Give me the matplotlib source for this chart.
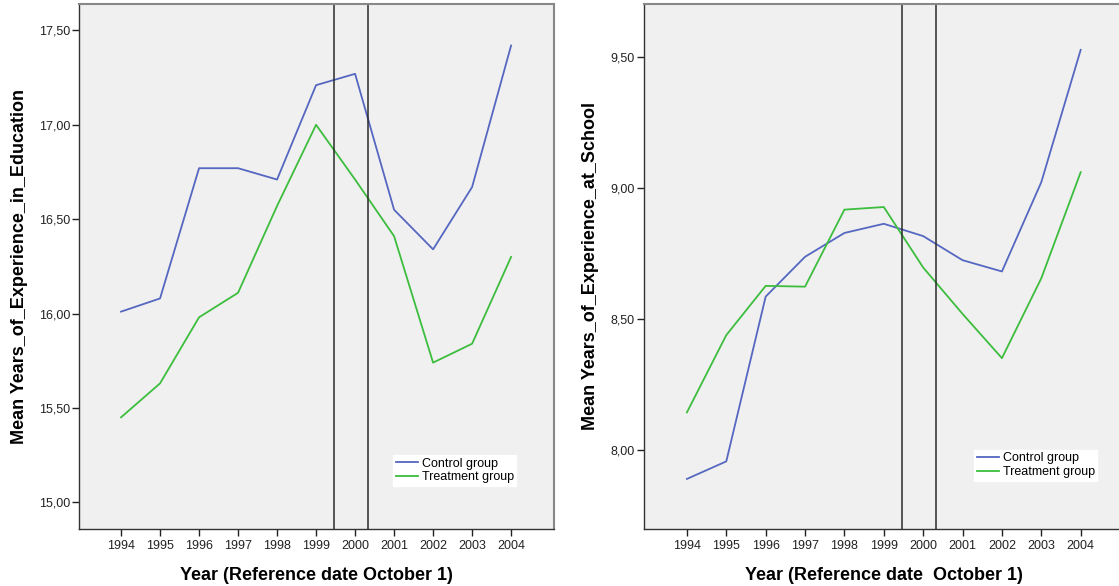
import matplotlib
matplotlib.use("Agg")
import matplotlib.pyplot as plt

plt.rcParams['font.family'] = ['Liberation Sans', 'DejaVu Sans']

years = [1994, 1995, 1996, 1997, 1998, 1999, 2000, 2001, 2002, 2003, 2004]

edu_control = [16.01, 16.08, 16.77, 16.77, 16.71, 17.21, 17.27, 16.55, 16.34, 16.67, 17.42]
edu_treatment = [15.45, 15.63, 15.98, 16.11, 16.57, 17.00, 16.71, 16.41, 15.74, 15.84, 16.30]

sch_control = [7.89, 7.957, 8.586, 8.738, 8.829, 8.864, 8.817, 8.725, 8.682, 9.023, 9.528]
sch_treatment = [8.144, 8.439, 8.627, 8.624, 8.918, 8.928, 8.697, 8.52, 8.351, 8.656, 9.061]

edu_yticks = [15.0, 15.5, 16.0, 16.5, 17.0, 17.5]
sch_yticks = [8.0, 8.5, 9.0, 9.5]
tick_fmt = lambda v: f"{v:.2f}".replace('.', ',')

cut_lines = [1999.47, 2000.32]

series_labels = ['Control group', 'Treatment group']
c_control = '#5567c0'
c_treat = '#3dbd3d'

W, H = 1119, 586
fig = plt.figure(figsize=(W / 100, H / 100), dpi=100)

def px_axes(x0, x1, y0, y1):
    return fig.add_axes([x0 / W, 1 - y1 / H, (x1 - x0) / W, (y1 - y0) / H])

ax1 = px_axes(79.3, 554, 4, 528.7)
ax2 = px_axes(643.6, 1124, 4, 528.7)

panels = [
    (ax1, edu_control, edu_treatment, edu_yticks, (14.86, 17.64), (1992.93, 2005.10),
     'Mean Years_of_Experience_in_Education', 'Year (Reference date October 1)',
     (0.661, 0.0814)),
    (ax2, sch_control, sch_treatment, sch_yticks, (7.70, 9.703), (1992.90, 2005.10),
     'Mean Years_of_Experience_at_School', 'Year (Reference date  October 1)',
     (0.688, 0.0915)),
]

for ax, ctrl, trt, yt, ylim, xlim, ylab, xlab, legpos in panels:
    ax.set_facecolor('#f0f0f0')
    ax.plot(years, ctrl, color=c_control, lw=1.3, label=series_labels[0])
    ax.plot(years, trt, color=c_treat, lw=1.3, label=series_labels[1])
    for xv in cut_lines:
        ax.axvline(xv, color='#2a2a2a', lw=1.1)
    ax.set_xlim(*xlim)
    ax.set_ylim(*ylim)
    ax.set_xticks(years)
    ax.set_xticklabels([str(y) for y in years], fontsize=9, color='#222222')
    ax.set_yticks(yt)
    ax.set_yticklabels([tick_fmt(v) for v in yt], fontsize=9, color='#222222')
    ax.tick_params(axis='both', direction='out', length=5, width=1, color='#222222')
    ax.tick_params(axis='y', pad=1.5)
    ax.tick_params(axis='x', pad=3)
    for side in ['left', 'bottom']:
        ax.spines[side].set_color('#333333')
        ax.spines[side].set_linewidth(1.0)
    for side in ['top', 'right']:
        ax.spines[side].set_color('#888888')
        ax.spines[side].set_linewidth(1.5)
    ax.set_ylabel(ylab, fontsize=13, fontweight='bold', labelpad=8)
    ax.set_xlabel(xlab, fontsize=13, fontweight='bold', labelpad=11)
    ax.legend(loc='lower left', bbox_to_anchor=legpos, fontsize=9, frameon=True,
              fancybox=False, framealpha=1, edgecolor='white', facecolor='white',
              handlelength=1.8, handletextpad=0.3, borderpad=0.2, labelspacing=0.15,
              borderaxespad=0)

fig.savefig('out.png', dpi=100)
